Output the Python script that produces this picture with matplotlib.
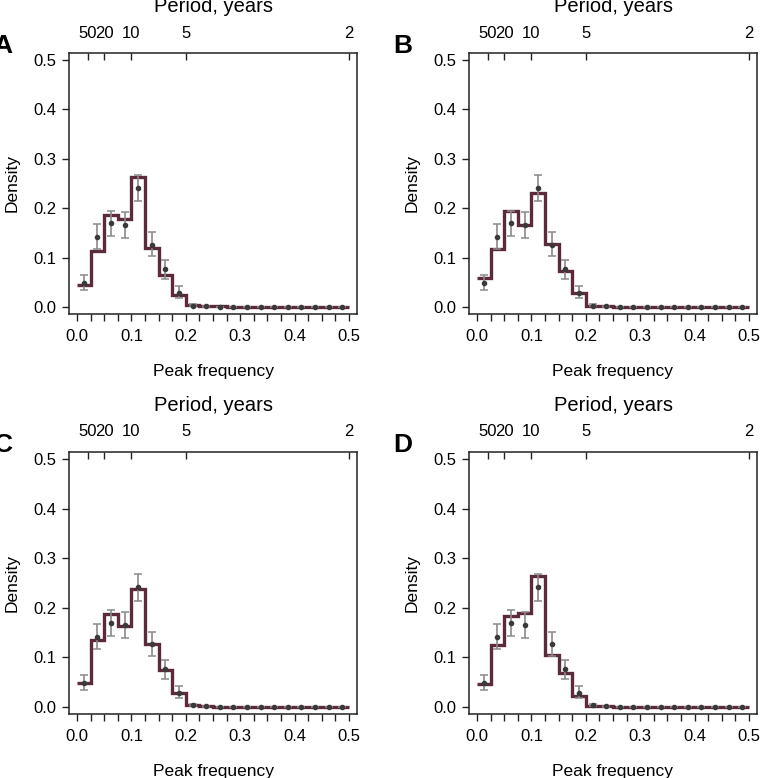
import numpy as np
import matplotlib
matplotlib.use("Agg")
import matplotlib.pyplot as plt

plt.rcParams['font.family'] = ['Liberation Sans', 'DejaVu Sans']

# bin edges of the peak-frequency histogram
bin_edges = [0.0, 0.025, 0.05, 0.075, 0.1, 0.125, 0.15, 0.175, 0.2, 0.225, 0.25,
             0.275, 0.3, 0.325, 0.35, 0.375, 0.4, 0.425, 0.45, 0.475, 0.5]
bin_centers = [0.0125, 0.0375, 0.0625, 0.0875, 0.1125, 0.1375, 0.1625, 0.1875, 0.2125, 0.2375,
               0.2625, 0.2875, 0.3125, 0.3375, 0.3625, 0.3875, 0.4125, 0.4375, 0.4625, 0.4875]

# observed density with error range (same in every panel)
obs_density = [0.048, 0.142, 0.169, 0.165, 0.241, 0.126, 0.076, 0.028, 0.003, 0.001,
               0, 0, 0, 0, 0, 0, 0, 0, 0, 0]
obs_low = [0.035, 0.117, 0.143, 0.140, 0.214, 0.103, 0.057, 0.018, 0.001, 0.0,
           0, 0, 0, 0, 0, 0, 0, 0, 0, 0]
obs_high = [0.065, 0.167, 0.195, 0.192, 0.268, 0.151, 0.095, 0.043, 0.006, 0.002,
            0, 0, 0, 0, 0, 0, 0, 0, 0, 0]

# model densities for each panel
hist_a = [0.045, 0.113, 0.186, 0.178, 0.264, 0.119, 0.064, 0.024, 0.005, 0.002,
          0.001, 0, 0, 0, 0, 0, 0, 0, 0, 0]
hist_b = [0.059, 0.118, 0.195, 0.166, 0.231, 0.127, 0.072, 0.028, 0.003, 0.001,
          0.0005, 0, 0, 0, 0, 0, 0, 0, 0, 0]
hist_c = [0.049, 0.134, 0.187, 0.163, 0.238, 0.126, 0.074, 0.028, 0.004, 0.001,
          0, 0, 0, 0, 0, 0, 0, 0, 0, 0]
hist_d = [0.047, 0.124, 0.183, 0.189, 0.264, 0.105, 0.068, 0.022, 0.001, 0.001,
          0, 0, 0, 0, 0, 0, 0, 0, 0, 0]

panel_labels = ['A', 'B', 'C', 'D']
period_ticks = [50, 20, 10, 5, 2]

W, H = 761, 778
fig = plt.figure(figsize=(W / 100, H / 100), dpi=100)

# axes boxes in pixels: left, top, right, bottom
boxes = [(69, 53, 357, 314), (469, 53, 757, 314),
         (69, 452, 357, 714), (469, 452, 757, 714)]
hists = [hist_a, hist_b, hist_c, hist_d]

line_col = '#5c2a3c'
spine_col = '#222222'

obs = np.array(obs_density)
yerr = [obs - np.array(obs_low), np.array(obs_high) - obs]

for box, h, lab in zip(boxes, hists, panel_labels):
    l, t, r, b = box
    ax = fig.add_axes([l / W, (H - b) / H, (r - l) / W, (b - t) / H])

    ax.stairs(h, bin_edges, baseline=None, color=line_col, lw=2.4, zorder=2)
    ax.errorbar(bin_centers, obs_density, yerr=yerr, fmt='none', ecolor='#8a8a8a',
                elinewidth=1.2, capsize=3, capthick=1.1, zorder=3)
    ax.plot(bin_centers, obs_density, ls='none', marker='o', ms=3.0,
            color='#3a3a3a', zorder=4)

    ax.set_xlim(-0.0147, 0.5147)
    ax.set_ylim(-0.0142, 0.514)
    ax.set_xticks([0.0, 0.1, 0.2, 0.3, 0.4, 0.5])
    ax.set_xticklabels(['0.0', '0.1', '0.2', '0.3', '0.4', '0.5'])
    ax.set_xticks(bin_edges, minor=True)
    ax.set_yticks([0.0, 0.1, 0.2, 0.3, 0.4, 0.5])
    ax.set_yticklabels(['0.0', '0.1', '0.2', '0.3', '0.4', '0.5'])
    ax.tick_params(axis='both', which='both', direction='out', length=5,
                   width=1, color=spine_col, labelsize=12)
    ax.tick_params(axis='x', which='both', pad=6)
    ax.tick_params(axis='y', which='both', pad=4)
    for s in ax.spines.values():
        s.set_color(spine_col)
        s.set_linewidth(1.1)

    ax.set_xlabel('Peak frequency', fontsize=12.5, labelpad=14)
    ax.set_ylabel('Density', fontsize=12.5, labelpad=10)

    top = ax.twiny()
    top.set_xlim(ax.get_xlim())
    top.set_xticks([1 / p for p in period_ticks])
    top.set_xticklabels([str(p) for p in period_ticks])
    top.tick_params(axis='x', direction='in', length=5, width=1, color=spine_col,
                    labelsize=12, pad=9)
    top.set_xlabel('Period, years', fontsize=14.5, labelpad=10)
    for s in top.spines.values():
        s.set_visible(False)

    fig.text((l - 66) / W, (H - t + 7) / H, lab, fontsize=19, fontweight='bold',
             ha='center', va='center')

fig.savefig('out.png', dpi=100)
